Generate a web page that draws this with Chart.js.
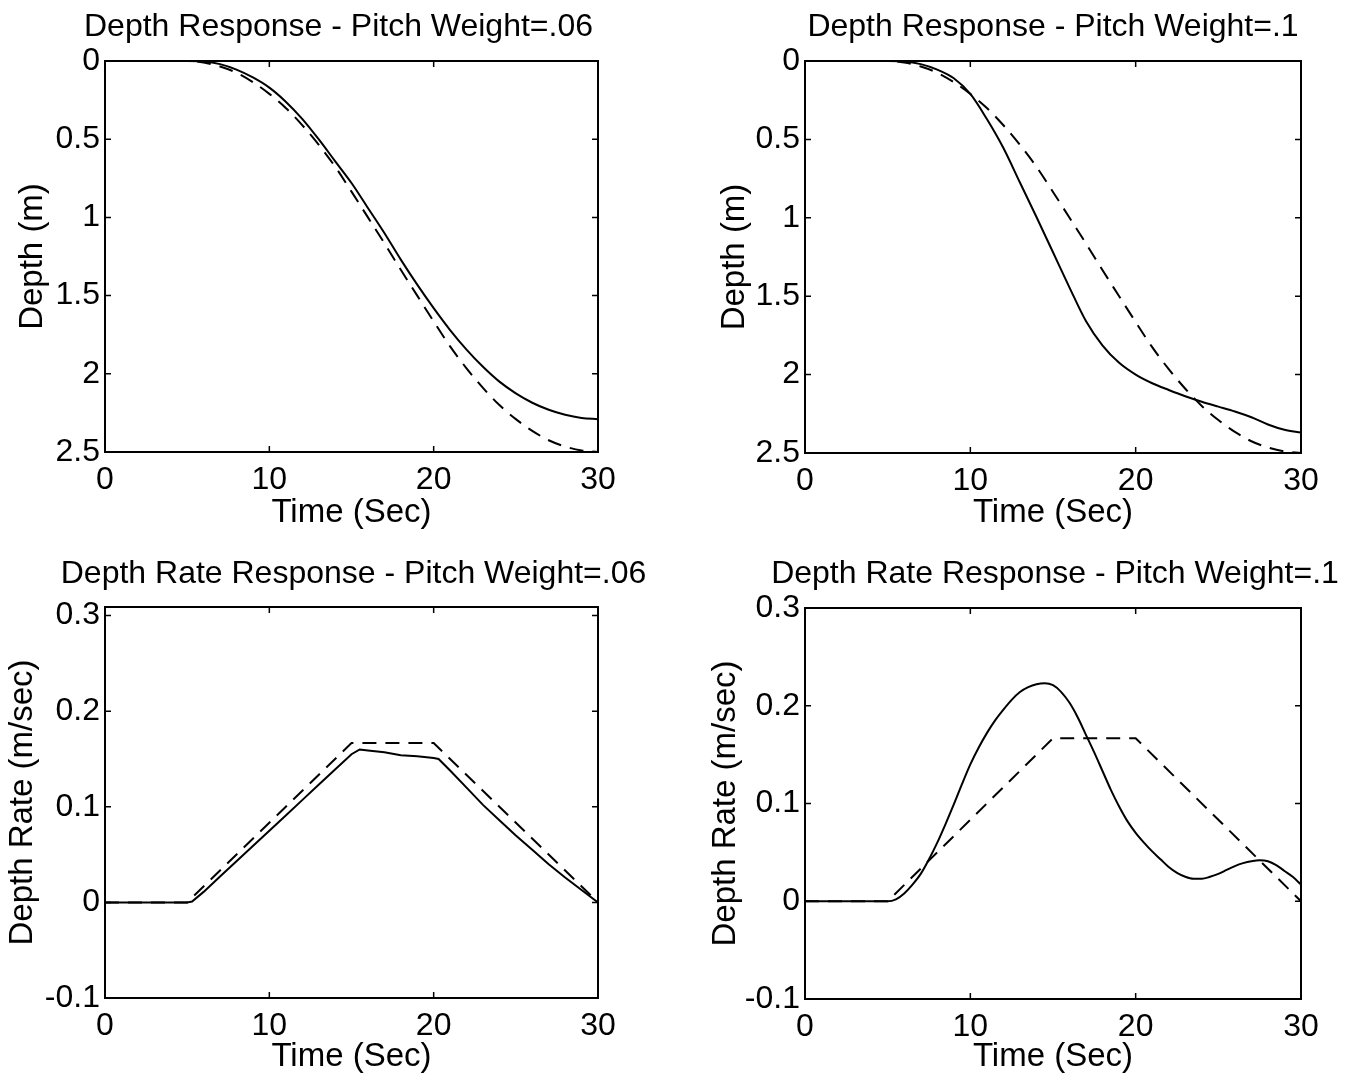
<!DOCTYPE html>
<html>
<head>
<meta charset="utf-8">
<script src="https://cdn.jsdelivr.net/npm/chart.js@4.4.1/dist/chart.umd.min.js"></script>
<style>
  html, body { margin: 0; padding: 0; background: #fff; }
  canvas.panel { position: absolute; }
</style>
</head>
<body>
<canvas id="depth06" class="panel" width="673" height="540" style="left:0;top:0"></canvas>
<canvas id="depth1" class="panel" width="673" height="540" style="left:673px;top:0"></canvas>
<canvas id="rate06" class="panel" width="673" height="538" style="left:0;top:540px"></canvas>
<canvas id="rate1" class="panel" width="673" height="538" style="left:673px;top:540px"></canvas>
<script>
// tick labels
const timeTicks = [0, 10, 20, 30];
const depthTicks = [0, 0.5, 1, 1.5, 2, 2.5];
const rateTicks = [-0.1, 0, 0.1, 0.2, 0.3];

// depth (m) sampled every second, 0..30 s
const depthTime = [0, 1, 2, 3, 4, 5, 6, 7, 8, 9, 10, 11, 12, 13, 14, 15,
  16, 17, 18, 19, 20, 21, 22, 23, 24, 25, 26, 27, 28, 29, 30];
// commanded depth (dashed), same in both top plots
const depthCmd = [0, 0, 0, 0, 0, 0, 0.01, 0.035, 0.075, 0.135, 0.21, 0.3, 0.41, 0.535, 0.675, 0.835,
  1.0, 1.165, 1.335, 1.5, 1.665, 1.825, 1.965, 2.09, 2.2, 2.29, 2.365, 2.425, 2.465, 2.49, 2.5];
const depth06 = [0, 0, 0, 0, 0, 0, 0.003, 0.02, 0.055, 0.105, 0.17, 0.26, 0.37, 0.5, 0.64, 0.78,
  0.94, 1.1, 1.27, 1.43, 1.58, 1.72, 1.845, 1.955, 2.05, 2.125, 2.185, 2.23, 2.262, 2.282, 2.29];
const depth1 = [0, 0, 0, 0, 0, 0, 0.003, 0.02, 0.055, 0.11, 0.21, 0.37, 0.555, 0.775, 0.995, 1.22,
  1.445, 1.66, 1.815, 1.925, 2.0, 2.055, 2.098, 2.138, 2.173, 2.204, 2.235, 2.272, 2.318, 2.352, 2.37];

// depth rate (m/sec)
const rateCmdTime = [0, 5, 15, 20, 30];
const rateCmd = [0, 0, 0.1667, 0.1667, 0];

const rate06Time = [0, 5, 5.3, 6, 7, 8, 9, 10, 11, 12, 13, 14, 15, 15.5, 16, 17, 18, 19, 20, 20.3,
  21, 22, 23, 24, 25, 26, 27, 28, 29, 30];
const rate06 = [0, 0, 0.001, 0.011, 0.027, 0.043, 0.059, 0.075, 0.091, 0.107, 0.123, 0.139, 0.155, 0.16, 0.159,
  0.157, 0.154, 0.153, 0.151, 0.15, 0.138, 0.12, 0.102, 0.086, 0.07, 0.055, 0.04, 0.026, 0.013, 0];

const rate1Time = [0, 5, 5.5, 6, 6.5, 7, 7.5, 8, 8.5, 9, 9.5, 10, 10.5, 11, 11.5, 12, 12.5, 13, 13.5, 14,
  14.5, 15, 15.5, 16, 16.5, 17, 17.5, 18, 18.5, 19, 19.5, 20, 20.5, 21, 21.5, 22, 22.5, 23, 23.5, 24,
  24.5, 25, 25.5, 26, 26.5, 27, 27.5, 28, 28.5, 29, 29.5, 30];
const rate1 = [0, 0, 0.002, 0.008, 0.017, 0.028, 0.043, 0.06, 0.079, 0.099, 0.12, 0.14, 0.157, 0.172, 0.185, 0.196,
  0.206, 0.214, 0.219, 0.222, 0.223, 0.221, 0.214, 0.203, 0.188, 0.17, 0.152, 0.133, 0.114, 0.097, 0.082, 0.07,
  0.06, 0.051, 0.043, 0.035, 0.029, 0.025, 0.023, 0.023, 0.025, 0.028, 0.032, 0.036, 0.039, 0.041, 0.042, 0.041,
  0.037, 0.031, 0.025, 0.017];

const FONT = 'Liberation Sans, Arial, Helvetica, sans-serif';

const toPoints = (xs, ys) => xs.map((x, i) => ({x: x, y: ys[i]}));

// box round the plot with inward tick marks on every side (matlab style)
const framePlugin = {
    id: 'frame',
    afterDraw(chart) {
        const {ctx, chartArea: a, scales} = chart;
        const len = 6;
        ctx.save();
        ctx.strokeStyle = '#000';
        ctx.lineWidth = 2;
        ctx.strokeRect(a.left, a.top, a.right - a.left, a.bottom - a.top);
        ctx.lineWidth = 1.5;
        ctx.beginPath();
        scales.x.ticks.forEach(t => {
            const px = scales.x.getPixelForValue(t.value);
            ctx.moveTo(px, a.bottom); ctx.lineTo(px, a.bottom - len);
            ctx.moveTo(px, a.top); ctx.lineTo(px, a.top + len);
        });
        scales.y.ticks.forEach(t => {
            const py = scales.y.getPixelForValue(t.value);
            ctx.moveTo(a.left, py); ctx.lineTo(a.left + len, py);
            ctx.moveTo(a.right, py); ctx.lineTo(a.right - len, py);
        });
        ctx.stroke();
        ctx.restore();
    }
};

// title drawn over the axes box
const titlePlugin = {
    id: 'panelTitle',
    afterDraw(chart, args, opts) {
        const {ctx, chartArea: a} = chart;
        ctx.save();
        ctx.fillStyle = '#000';
        ctx.font = opts.size + 'px ' + FONT;
        ctx.textAlign = 'center';
        ctx.textBaseline = 'middle';
        ctx.fillText(opts.text, (a.left + a.right) / 2 + opts.dx, opts.y);
        ctx.restore();
    }
};

const fmt = v => String(+v.toFixed(2));

function makePanel(id, p) {
    const tickFont = {family: FONT, size: 32};
    const labelFont = {family: FONT, size: 33};
    return new Chart(document.getElementById(id), {
        type: 'line',
        data: {
            datasets: [
                {data: p.solid, borderColor: '#000', borderWidth: 2, pointRadius: 0,
                    cubicInterpolationMode: p.smooth ? 'monotone' : 'default', tension: 0},
                {data: p.dashed, borderColor: '#000', borderWidth: 2, pointRadius: 0,
                    borderDash: [14, 9], cubicInterpolationMode: p.smoothCmd ? 'monotone' : 'default', tension: 0}
            ]
        },
        options: {
            responsive: false,
            animation: false,
            devicePixelRatio: 1,
            layout: {padding: {top: p.top, right: p.right, left: 0, bottom: 0}},
            plugins: {
                legend: {display: false},
                tooltip: {enabled: false},
                panelTitle: {text: p.title, size: 32, dx: p.titleDx, y: p.titleY}
            },
            scales: {
                x: {
                    type: 'linear', min: 0, max: 30,
                    afterBuildTicks: s => { s.ticks = timeTicks.map(v => ({value: v})); },
                    afterFit: s => { s.height = p.xh; },
                    ticks: {font: tickFont, color: '#000', padding: 9, maxRotation: 0, callback: fmt},
                    grid: {display: false, drawTicks: false},
                    border: {display: false},
                    title: {display: true, text: 'Time (Sec)', color: '#000', font: labelFont,
                        padding: {top: 0, bottom: p.xtp}}
                },
                y: {
                    type: 'linear', min: p.ymin, max: p.ymax, reverse: p.reverse,
                    afterBuildTicks: s => { s.ticks = p.yTicks.map(v => ({value: v})); },
                    afterFit: s => { s.width = p.yw; },
                    ticks: {font: tickFont, color: '#000', padding: 5, callback: fmt},
                    grid: {display: false, drawTicks: false},
                    border: {display: false},
                    title: {display: true, text: p.ylabel, color: '#000', font: labelFont,
                        padding: {top: p.ytp, bottom: 0}}
                }
            }
        },
        plugins: [framePlugin, titlePlugin]
    });
}

makePanel('depth06', {
    solid: toPoints(depthTime, depth06), dashed: toPoints(depthTime, depthCmd), smooth: true, smoothCmd: true,
    title: 'Depth Response - Pitch Weight=.06', titleDx: -13, titleY: 27,
    ymin: 0, ymax: 2.5, reverse: true, yTicks: depthTicks, ylabel: 'Depth (m)',
    top: 61, right: 75, xh: 88, yw: 105, xtp: 7, ytp: 13
});
makePanel('depth1', {
    solid: toPoints(depthTime, depth1), dashed: toPoints(depthTime, depthCmd), smooth: true, smoothCmd: true,
    title: 'Depth Response - Pitch Weight=.1', titleDx: 0, titleY: 27,
    ymin: 0, ymax: 2.5, reverse: true, yTicks: depthTicks, ylabel: 'Depth (m)',
    top: 61, right: 45, xh: 87, yw: 132, xtp: 7, ytp: 42
});
makePanel('rate06', {
    solid: toPoints(rate06Time, rate06), dashed: toPoints(rateCmdTime, rateCmd), smooth: false, smoothCmd: false,
    title: 'Depth Rate Response - Pitch Weight=.06', titleDx: 2, titleY: 34,
    ymin: -0.1, ymax: 0.309, reverse: false, yTicks: rateTicks, ylabel: 'Depth Rate (m/sec)',
    top: 67, right: 75, xh: 80, yw: 105, xtp: 1, ytp: 3
});
makePanel('rate1', {
    solid: toPoints(rate1Time, rate1), dashed: toPoints(rateCmdTime, rateCmd), smooth: true, smoothCmd: false,
    title: 'Depth Rate Response - Pitch Weight=.1', titleDx: 2, titleY: 34,
    ymin: -0.1, ymax: 0.3, reverse: false, yTicks: rateTicks, ylabel: 'Depth Rate (m/sec)',
    top: 68, right: 45, xh: 79, yw: 132, xtp: 1, ytp: 33
});
</script>
</body>
</html>
